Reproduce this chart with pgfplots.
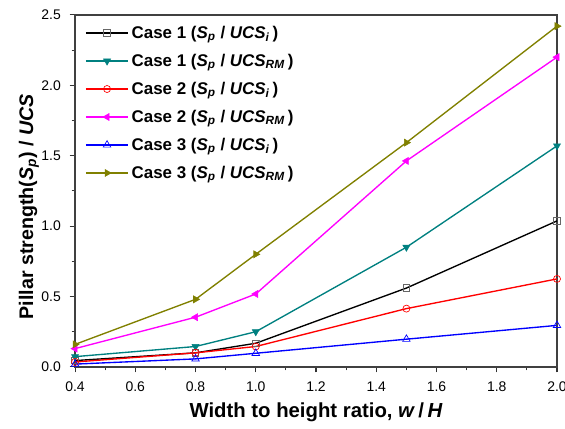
\documentclass[border=0pt]{standalone}
\usepackage{fontspec}
\setmainfont{Liberation Sans}
\usepackage{pgfplots}
\pgfplotsset{compat=1.18}
\definecolor{cteal}{RGB}{0,128,128}
\definecolor{colive}{RGB}{128,128,0}
\definecolor{cmag}{RGB}{255,0,255}
\newcommand{\Sp}{\textit{S}\textsubscript{\textit{p}}}
\begin{document}
\begin{tikzpicture}
\begin{axis}[
  scale only axis, width=355.7pt, height=259.8pt,
  xmin=0.4, xmax=2.0, ymin=0, ymax=2.5,
  xtick={0.4,0.6,0.8,1.0,1.2,1.4,1.6,1.8,2.0},
  ytick={0,0.5,1.0,1.5,2.0,2.5},
  minor x tick num=1, minor y tick num=1,
  tick align=outside, tick pos=left,
  major tick length=4pt, minor tick length=2.5pt,
  tick style={line width=0.8pt, color=black!80},
  axis line style={line width=1.1pt, color=black!75},
  /pgf/number format/assume math mode=true,
  /pgf/number format/fixed, /pgf/number format/precision=1,
  /pgf/number format/fixed zerofill,
  tick label style={font=\fontsize{10.3}{12}\selectfont},
  xticklabel style={yshift=-3.5pt},
  yticklabel style={xshift=-3pt},
  xlabel={\textbf{Width to height ratio, \textit{w}\,/\,\textit{H}}},
  ylabel={\textbf{Pillar strength(\Sp) / \textit{UCS}}},
  xlabel style={font=\fontsize{15}{18}\selectfont, at={(axis description cs:0.5,0)}, anchor=base, yshift=-37.6pt},
  ylabel style={font=\fontsize{14.5}{17}\selectfont, at={(axis description cs:0,0.455)}, anchor=center, yshift=34pt},
  legend style={at={(0.012,0.985)}, anchor=north west, draw=none, fill=none,
    font=\bfseries\fontsize{12.5}{14}\selectfont, row sep=6.1pt},
  legend cell align=left,
  legend image code/.code={\draw[mark repeat=2,mark phase=2] plot coordinates {(0cm,0cm)(0.55cm,0cm)(1.1cm,0cm)};},
  every axis plot/.append style={line width=1pt},
]
\addplot[black, mark=square, mark size=2.4pt, mark options={draw=black!60, fill=white, line width=0.6pt}]
  coordinates {(0.4,0.045)(0.8,0.10)(1.0,0.168)(1.5,0.56)(2.0,1.037)};
\addlegendentry{Case 1 (\Sp{} / \textit{UCS}\textsubscript{\textit{i}}\,)}
\addplot[cteal, mark=triangle*, mark size=3pt, mark options={rotate=180, fill=cteal, line width=0.4pt}]
  coordinates {(0.4,0.073)(0.8,0.145)(1.0,0.25)(1.5,0.85)(2.0,1.57)};
\addlegendentry{Case 1 (\Sp{} / \textit{UCS}\textsubscript{\textit{RM}}\,)}
\addplot[red, mark=o, mark size=2.6pt, mark options={fill=white, line width=0.5pt}]
  coordinates {(0.4,0.035)(0.8,0.10)(1.0,0.145)(1.5,0.414)(2.0,0.625)};
\addlegendentry{Case 2 (\Sp{} / \textit{UCS}\textsubscript{\textit{i}}\,)}
\addplot[cmag, mark=triangle*, mark size=3pt, mark options={rotate=90, fill=cmag, line width=0.4pt}]
  coordinates {(0.4,0.13)(0.8,0.353)(1.0,0.518)(1.5,1.463)(2.0,2.20)};
\addlegendentry{Case 2 (\Sp{} / \textit{UCS}\textsubscript{\textit{RM}}\,)}
\addplot[blue, mark=triangle, mark size=3.2pt, mark options={fill=white, line width=0.5pt}]
  coordinates {(0.4,0.02)(0.8,0.057)(1.0,0.097)(1.5,0.197)(2.0,0.295)};
\addlegendentry{Case 3 (\Sp{} / \textit{UCS}\textsubscript{\textit{i}}\,)}
\addplot[colive, mark=triangle*, mark size=3pt, mark options={rotate=-90, fill=colive, line width=0.4pt}]
  coordinates {(0.4,0.16)(0.8,0.48)(1.0,0.80)(1.5,1.593)(2.0,2.42)};
\addlegendentry{Case 3 (\Sp{} / \textit{UCS}\textsubscript{\textit{RM}}\,)}
\end{axis}
\pgfresetboundingbox
\path ([shift={(-55.4pt,-45.8pt)}]current axis.south west) rectangle ([shift={(5.9pt,11pt)}]current axis.north east);
\end{tikzpicture}
\end{document}
